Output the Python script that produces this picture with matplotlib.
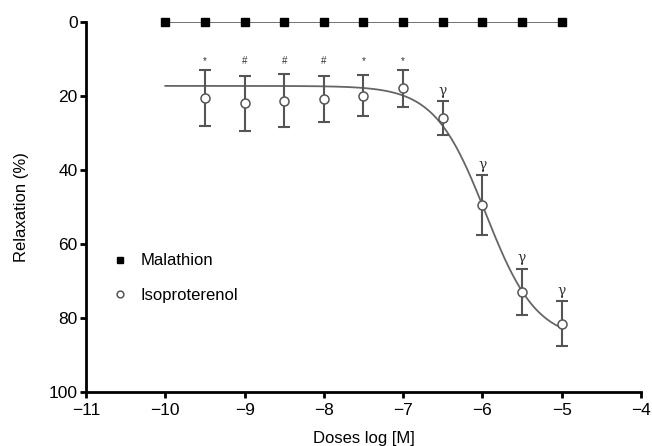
import numpy as np
import matplotlib
matplotlib.use("Agg")
import matplotlib.pyplot as plt

plt.rcParams["font.family"] = ["Liberation Sans", "DejaVu Sans"]

# ---------------------------------------------------------------- 数据
mal_x = [-10, -9.5, -9, -8.5, -8, -7.5, -7, -6.5, -6, -5.5, -5]
mal_y = [0, 0, 0, 0, 0, 0, 0, 0, 0, 0, 0]

iso_x = [-9.5, -9, -8.5, -8, -7.5, -7, -6.5, -6, -5.5, -5]
iso_y = [20.5, 22.0, 21.3, 20.8, 19.9, 18.0, 26.0, 49.5, 73.0, 81.5]
iso_err = [7.5, 7.5, 7.2, 6.2, 5.5, 5.0, 4.5, 8.0, 6.2, 6.0]

# 拟合曲线参数 (S 型)
fit_bottom, fit_top, fit_logec50, fit_hill = 17.3, 86.0, -5.96, 1.35
fit_range = (-10, -5)

marks = ["*", "#", "#", "#", "*", "*", "γ", "γ", "γ", "γ"]


def sigmoid(x):
    return fit_bottom + (fit_top - fit_bottom) / (1 + 10 ** ((fit_logec50 - x) * fit_hill))


fig = plt.figure(figsize=(6.52, 4.46), dpi=100)
ax = fig.add_axes([0.132, 0.121, 0.851, 0.830])

gray = "#666666"
xs = np.linspace(*fit_range, 300)
ax.plot(xs, sigmoid(xs), color=gray, lw=1.3, zorder=2)

ax.plot(mal_x, mal_y, color=gray, lw=1.3, zorder=2)
ax.plot(mal_x, mal_y, ls="none", marker="s", ms=6, color="black", zorder=4,
        clip_on=False, label="Malathion")

ax.errorbar(iso_x, iso_y, yerr=iso_err, fmt="none", ecolor="#555555",
            elinewidth=1.5, capsize=4, capthick=1.5, zorder=3)
ax.plot(iso_x, iso_y, ls="none", marker="o", ms=6.5, mfc="white", mec="#555555",
        mew=1.1, zorder=4, label="Isoproterenol")

for x, y, e, m in zip(iso_x, iso_y, iso_err, marks):
    if m == "γ":
        ax.text(x, y - e - 1.0, m, ha="center", va="bottom", fontsize=10,
                family=["DejaVu Serif"], color="#333333")
    else:
        ax.text(x, 10.5, m, ha="center", va="center", fontsize=7, color="#333333")

ax.set_xlim(-11, -4)
ax.set_ylim(100, 0)
ax.set_xticks(range(-11, -3))
ax.set_xticklabels([f"\u2212{abs(v)}" for v in range(-11, -3)])
ax.set_yticks(range(0, 101, 20))

for s in ("top", "right"):
    ax.spines[s].set_visible(False)
for s in ("left", "bottom"):
    ax.spines[s].set_linewidth(2)
ax.tick_params(width=2, length=4, labelsize=12.5, pad=2)
ax.tick_params(axis="x", pad=4)

ax.set_xlabel("Doses log [M]", fontsize=12, labelpad=9)
ax.set_ylabel("Relaxation (%)", fontsize=12, labelpad=14)

leg = ax.legend(loc="upper left", bbox_to_anchor=(0.02, 0.415), frameon=False,
                fontsize=12, handletextpad=0.7, labelspacing=1.15,
                handlelength=1.0, markerscale=0.75)

fig.savefig("out.png", dpi=100)
